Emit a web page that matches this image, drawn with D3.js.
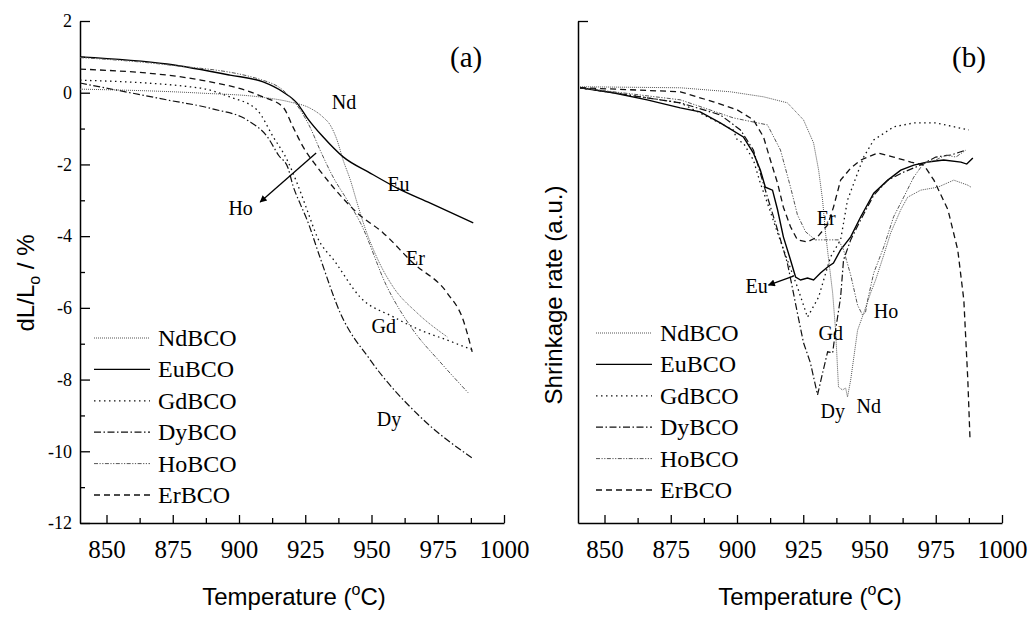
<!DOCTYPE html>
<html>
<head>
<meta charset="utf-8">
<script src="https://cdn.jsdelivr.net/npm/d3@7"></script>
<style>
  html, body { margin: 0; padding: 0; background: #fff; }
  svg { display: block; }
</style>
</head>
<body>
<svg id="chart" width="1030" height="617"></svg>
<script>
// ---------- DATA ----------
const seriesNames = ["NdBCO", "EuBCO", "GdBCO", "DyBCO", "HoBCO", "ErBCO"];
const xTicks = [850, 875, 900, 925, 950, 975, 1000];
const yTicksA = [2, 0, -2, -4, -6, -8, -10, -12];

// Panel (a): dL/Lo (%) vs temperature (°C)
const aNd = [[840,0.10],[885.3,-0.01],[908,-0.12],[919.3,-0.26],[926.8,-0.43],[931.7,-0.68],[934.4,-0.90],[937,-1.32],[939.3,-1.88],[942,-2.43],[944.6,-3.08],[946.9,-3.63],[952.5,-4.67],[958.2,-5.42],[967.2,-6.14],[978.6,-6.81]];
const aEu = [[840,1.0],[872.8,0.80],[896.6,0.49],[909.1,0.30],[916.6,0.02],[921.9,-0.29],[925.7,-0.70],[931.7,-1.23],[939.3,-1.79],[949.5,-2.24],[959.7,-2.66],[972.2,-3.08],[988.4,-3.63]];
const aGd = [[840,0.35],[885.3,0.13],[896.6,-0.12],[906.8,-0.48],[912.9,-1.23],[918.2,-1.88],[921.9,-2.52],[925.7,-3.27],[929.5,-4.02],[936.3,-4.72],[945.7,-5.70],[958.2,-6.25],[968.4,-6.62],[978.6,-6.90],[988,-7.17]];
const aDy = [[840,0.27],[872.8,-0.20],[890,-0.45],[903.5,-0.78],[910.6,-1.22],[915,-1.75],[918.5,-2.1],[920.4,-2.6],[923.1,-3.1],[925.7,-3.55],[930.6,-4.6],[938.2,-6.14],[949.5,-7.45],[968.4,-9.04],[988,-10.19]];
const aHo = [[840,0.98],[872.8,0.78],[908,0.37],[916.6,0.07],[923.1,-0.48],[926.8,-0.96],[930.6,-1.60],[935.5,-2.35],[940.8,-2.99],[945.7,-3.61],[955.9,-5.42],[965.7,-6.62],[975.9,-7.51],[986.5,-8.37]];
const aEr = [[840,0.66],[885.3,0.355],[909.1,-0.12],[916.6,-0.40],[920.4,-0.96],[924.2,-1.51],[929.5,-2.07],[935.5,-2.63],[944.6,-3.35],[954.4,-3.91],[965.7,-4.75],[978.6,-5.59],[984.6,-6.34],[988,-7.23]];

// Panel (b): shrinkage rate (arbitrary units) vs temperature (°C)
const bNd = [[840.8,8.69],[878.6,8.67],[897.5,8.59],[910,8.49],[919,8.37],[925.1,8.03],[928.9,7.57],[930.8,7.03],[932.3,6.43],[933.4,5.78],[934.6,5.24],[936.1,4.58],[937.2,3.84],[938.3,2.71],[939.8,2.65],[941,2.69],[941.7,2.51],[942.9,2.85],[945.5,3.84],[947.8,4.18],[950.4,4.58],[952.3,4.84],[955.4,5.34],[958,5.78],[961.8,6.24],[964.4,6.49],[969.3,6.63],[975.8,6.69],[981.8,6.83],[987.1,6.73],[988.3,6.69]];
const bEu = [[840.8,8.67],[853.2,8.57],[866.1,8.43],[878.6,8.27],[886.1,8.19],[893.7,7.97],[902.4,7.69],[906.2,7.37],[908.8,7.03],[910.7,6.69],[913.4,6.63],[915.3,6.24],[917.5,5.70],[920.2,5.24],[922.1,4.90],[924,4.84],[926.6,4.88],[928.9,4.84],[931.5,4.98],[934.2,5.10],[936.4,5.18],[939.1,5.44],[942.9,5.70],[946.7,6.10],[951.6,6.57],[956.9,6.83],[961.8,7.03],[966.7,7.13],[972,7.19],[978,7.23],[984.5,7.19],[986.7,7.15],[989,7.27]];
const bGd = [[840.8,8.67],[878.6,8.37],[898.6,7.83],[900.1,7.63],[902.4,7.57],[906.2,7.23],[908.8,6.77],[911.5,6.37],[915.3,5.78],[919,5.24],[922.8,4.70],[926.6,4.10],[930.8,4.50],[932.7,4.84],[935.3,5.30],[939.1,5.64],[941.7,6.43],[945.5,6.97],[947.8,7.29],[951.6,7.63],[959.1,7.89],[966.7,7.97],[975,7.97],[987.5,7.83]];
const bDy = [[840.8,8.67],[878.6,8.37],[893.7,8.13],[901.3,7.83],[906.2,7.43],[910.7,6.63],[915.3,5.84],[919,5.18],[921.3,4.58],[922.8,4.18],[925.1,3.59],[927.7,3.19],[930.4,2.55],[932.3,2.99],[934.2,3.41],[936.1,3.39],[937.2,3.84],[939.1,4.50],[940.2,5.24],[942.9,5.64],[946.7,6.04],[951.6,6.53],[956.9,6.83],[962.9,6.99],[969.3,7.13],[975,7.29],[980.7,7.33],[986.4,7.43]];
const bHo = [[840.8,8.67],[878.6,8.43],[898.6,8.07],[911.5,7.93],[916.4,7.43],[920.2,6.69],[922.8,6.14],[925.9,5.80],[929.6,5.64],[934.6,5.64],[938.3,5.64],[940.2,5.44],[942.9,4.94],[945.5,4.34],[947.4,4.14],[948.5,4.20],[949.3,4.44],[951.6,4.98],[955.4,5.50],[959.1,6.10],[962.9,6.49],[966.7,6.89],[970.5,7.17],[975,7.23],[978.8,7.33],[982.6,7.29],[986.4,7.43]];
const bEr = [[840.8,8.67],[878.6,8.59],[891.1,8.39],[900.1,8.23],[906.2,8.03],[910,7.69],[912.6,7.23],[915.3,6.77],[917.5,6.29],[920.2,5.90],[922.8,5.64],[926.6,5.60],[930.4,5.70],[934.2,5.94],[936.4,6.29],[939.1,6.83],[942.9,7.07],[946.7,7.23],[953.1,7.37],[959.1,7.29],[965.6,7.19],[970.5,7.13],[974.3,6.83],[979.6,6.24],[983.3,5.44],[985.6,4.44],[987.1,2.85],[987.9,1.71]];

// ---------- STYLES ----------
const styles = {
  NdBCO: { stroke: "#555", dash: "1,1", width: 1 },
  EuBCO: { stroke: "#000", dash: null, width: 1.4 },
  GdBCO: { stroke: "#111", dash: "1.5,3.5", width: 1.3 },
  DyBCO: { stroke: "#111", dash: "7,2.5,1.5,2.5", width: 1.2 },
  HoBCO: { stroke: "#555", dash: "4,1.5,1.2,1.5,1.2,1.5", width: 1 },
  ErBCO: { stroke: "#111", dash: "6,4", width: 1.3 }
};

const svg = d3.select("#chart");
const serif = "'Liberation Serif', 'Times New Roman', serif";
const sans = "'Liberation Sans', Arial, sans-serif";
const fmt = d => String(d);

svg.append("defs").append("marker")
  .attr("id", "arrow").attr("viewBox", "0 0 10 10")
  .attr("refX", 9).attr("refY", 5)
  .attr("markerWidth", 9).attr("markerHeight", 7)
  .attr("markerUnits", "userSpaceOnUse")
  .attr("orient", "auto")
  .append("path").attr("d", "M0,0 L10,5 L0,10 z").attr("fill", "#000");

function drawPanel(opt) {
  const x = d3.scaleLinear().domain([840, 1000]).range([opt.x0, opt.x1]);
  const y = d3.scaleLinear().domain(opt.yDomain).range([523, 21]);
  const g = svg.append("g");

  // x axis
  const xa = g.append("g").attr("transform", `translate(0,523)`)
    .call(d3.axisBottom(x).tickValues(xTicks).tickSize(-8).tickSizeOuter(0).tickPadding(17).tickFormat(fmt));
  xa.selectAll("text").attr("font-size", 25).attr("font-family", serif).attr("fill", "#000");
  const xMinor = d3.range(862.5, 1000, 25);
  g.append("g").attr("transform", `translate(0,523)`)
    .call(d3.axisBottom(x).tickValues(xMinor).tickSize(-5).tickSizeOuter(0).tickFormat(""))
    .select(".domain").remove();

  // y axis
  if (opt.yTicks) {
    const ya = g.append("g").attr("transform", `translate(${opt.x0},0)`)
      .call(d3.axisLeft(y).tickValues(opt.yTicks).tickSize(-10).tickSizeOuter(0).tickPadding(8).tickFormat(fmt));
    ya.selectAll("text").attr("font-size", 18).attr("font-family", serif).attr("fill", "#000");
    const yMinor = d3.range(-11, 2, 2);
    g.append("g").attr("transform", `translate(${opt.x0},0)`)
      .call(d3.axisLeft(y).tickValues(yMinor).tickSize(-5).tickSizeOuter(0).tickFormat(""))
      .select(".domain").remove();
  } else {
    g.append("g").attr("transform", `translate(${opt.x0},0)`)
      .call(d3.axisLeft(y).tickValues([opt.yDomain[1]]).tickSize(-10).tickSizeOuter(0).tickFormat(""));
  }
  g.selectAll(".domain").attr("stroke", "#000").attr("stroke-width", 1.5);
  g.selectAll(".tick line").attr("stroke", "#000").attr("stroke-width", 1.3);

  // curves
  const line = d3.line().x(d => x(d[0])).y(d => y(d[1])).curve(opt.curve);
  opt.series.forEach((data, i) => {
    const st = styles[seriesNames[i]];
    g.append("path").datum(data).attr("d", line)
      .attr("fill", "none").attr("stroke", st.stroke)
      .attr("stroke-width", st.width)
      .attr("stroke-dasharray", st.dash);
  });

  // legend
  seriesNames.forEach((name, i) => {
    const st = styles[name];
    const ly = opt.legY + i * 31.4;
    g.append("line").attr("x1", opt.legX).attr("x2", opt.legX + 56)
      .attr("y1", ly).attr("y2", ly)
      .attr("stroke", st.stroke).attr("stroke-width", st.width)
      .attr("stroke-dasharray", st.dash);
    g.append("text").attr("x", opt.legX + 64).attr("y", ly + 8)
      .attr("font-family", serif).attr("font-size", 24).text(name);
  });

  // panel tag
  g.append("text").attr("x", opt.tagX).attr("y", 67)
    .attr("font-family", serif).attr("font-size", 29).text(opt.tag);

  // labels
  opt.labels.forEach(l => {
    g.append("text").attr("x", x(l[1])).attr("y", y(l[2]))
      .attr("font-family", serif).attr("font-size", 20).text(l[0]);
  });
  opt.arrows.forEach(a => {
    g.append("line").attr("x1", x(a[0])).attr("y1", y(a[1]))
      .attr("x2", x(a[2])).attr("y2", y(a[3]))
      .attr("stroke", "#000").attr("stroke-width", 1.3)
      .attr("marker-end", "url(#arrow)");
  });

  // axis titles
  const xt = g.append("text").attr("x", (opt.x0 + opt.x1) / 2 + opt.xtShift).attr("y", 605)
    .attr("text-anchor", "middle").attr("font-family", sans).attr("font-size", 24);
  xt.append("tspan").text("Temperature (");
  xt.append("tspan").attr("font-size", 16).attr("dy", -10).text("o");
  xt.append("tspan").attr("dy", 10).text("C)");

  const yt = g.append("text")
    .attr("transform", `translate(${opt.ytX},${opt.ytY}) rotate(-90)`)
    .attr("text-anchor", "middle").attr("font-family", sans).attr("font-size", 24);
  opt.yTitle(yt);
}

drawPanel({
  x0: 80, x1: 504, yDomain: [-12, 2], yTicks: yTicksA,
  series: [aNd, aEu, aGd, aDy, aHo, aEr], curve: d3.curveMonotoneX,
  legX: 94, legY: 338, tag: "(a)", tagX: 450, xtShift: 2,
  labels: [["Nd", 935, -0.45], ["Eu", 956, -2.75], ["Ho", 896, -3.4], ["Er", 963, -4.8], ["Gd", 950, -6.7], ["Dy", 952, -9.3]],
  arrows: [[929.1, -1.68, 908, -3.05]],
  ytX: 34, ytY: 283,
  yTitle: t => { t.append("tspan").text("dL/L"); t.append("tspan").attr("font-size", 16).attr("dy", 6).text("o"); t.append("tspan").attr("dy", -6).text(" / %"); }
});

drawPanel({
  x0: 578, x1: 1002, yDomain: [0, 10], yTicks: null,
  series: [bNd, bEu, bGd, bDy, bHo, bEr], curve: d3.curveLinear,
  legX: 596, legY: 333, tag: "(b)", tagX: 952, xtShift: 20,
  labels: [["Er", 930.1, 5.93], ["Eu", 903.2, 4.58], ["Ho", 951.6, 4.08], ["Gd", 930.8, 3.64], ["Dy", 931.5, 2.09], ["Nd", 945.1, 2.19]],
  arrows: [[921.3, 4.92, 911.9, 4.74]],
  ytX: 562, ytY: 295,
  yTitle: t => { t.text("Shrinkage rate (a.u.)"); }
});
</script>
</body>
</html>
